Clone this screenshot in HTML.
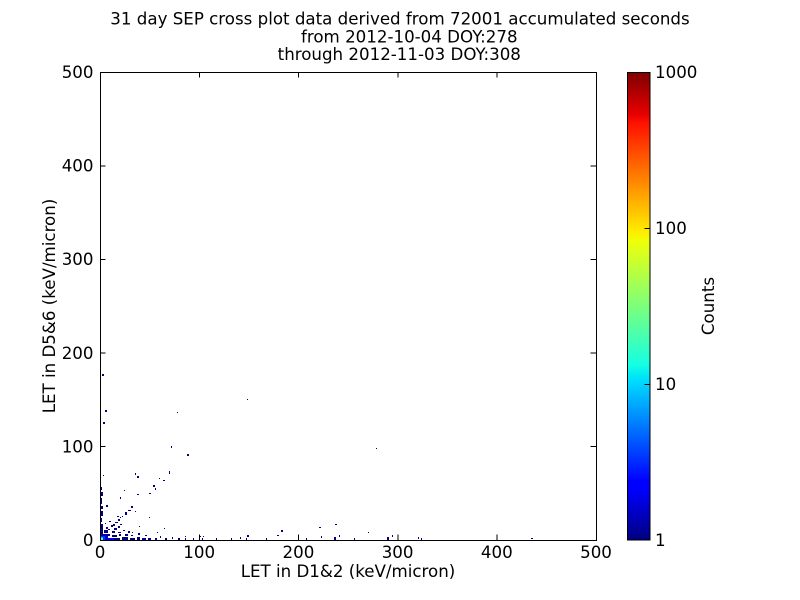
<!DOCTYPE html>
<html><head><meta charset="utf-8"><style>
html,body{margin:0;padding:0;background:#fff;}
svg{display:block;}
text{font-family:"DejaVu Sans","Liberation Sans",sans-serif;fill:#000;}
</style></head><body>
<svg width="800" height="600" viewBox="0 0 800 600" xmlns="http://www.w3.org/2000/svg">
<defs>
<linearGradient id="jet" x1="0" y1="1" x2="0" y2="0">
<stop offset="0" stop-color="#000080"/>
<stop offset="0.11" stop-color="#0000ff"/>
<stop offset="0.125" stop-color="#0000ff"/>
<stop offset="0.34" stop-color="#00dbff"/>
<stop offset="0.35" stop-color="#00e6f7"/>
<stop offset="0.375" stop-color="#15ffe2"/>
<stop offset="0.64" stop-color="#efff08"/>
<stop offset="0.65" stop-color="#f7f500"/>
<stop offset="0.66" stop-color="#ffec00"/>
<stop offset="0.89" stop-color="#ff1300"/>
<stop offset="0.91" stop-color="#e80000"/>
<stop offset="1" stop-color="#800000"/>
</linearGradient>
</defs>
<rect x="0" y="0" width="800" height="600" fill="#fff"/>

<text x="400" y="24.5" font-size="16.67" text-anchor="middle">31 day SEP cross plot data derived from 72001 accumulated seconds</text>
<text x="409.3" y="42.5" font-size="16.67" text-anchor="middle">from 2012-10-04 DOY:278</text>
<text x="399.3" y="60" font-size="16.67" text-anchor="middle">through 2012-11-03 DOY:308</text>

<g fill="#000080">
<rect x="102" y="374" width="2" height="2"/>
<rect x="105" y="410" width="2" height="2"/>
<rect x="103" y="422" width="2" height="2"/>
<rect x="177" y="412" width="1" height="1"/>
<rect x="247" y="399" width="1" height="1"/>
<rect x="171" y="446" width="1" height="2"/>
<rect x="187" y="454" width="2" height="2"/>
<rect x="376" y="448" width="1" height="1"/>
<rect x="103" y="475" width="1" height="1"/>
<rect x="135" y="473" width="1" height="2"/>
<rect x="137" y="476" width="2" height="2"/>
<rect x="169" y="471" width="1" height="3"/>
<rect x="159" y="478" width="1" height="1"/>
<rect x="163" y="480" width="2" height="1"/>
<rect x="153" y="485" width="2" height="2"/>
<rect x="155" y="488" width="1" height="2"/>
<rect x="124" y="490" width="1" height="1"/>
<rect x="137" y="494" width="2" height="1"/>
<rect x="149" y="493" width="2" height="1"/>
<rect x="120" y="497" width="1" height="2"/>
<rect x="131" y="506" width="2" height="2"/>
<rect x="106" y="505" width="2" height="2"/>
<rect x="130" y="510" width="1" height="1"/>
<rect x="135" y="511" width="1" height="1"/>
<rect x="125" y="512" width="2" height="3"/>
<rect x="128" y="510" width="2" height="1"/>
<rect x="122" y="516" width="1" height="1"/>
<rect x="120" y="517" width="1" height="1"/>
<rect x="117" y="516" width="2" height="1"/>
<rect x="118" y="519" width="2" height="2"/>
<rect x="149" y="517" width="1" height="1"/>
<rect x="115" y="522" width="2" height="1"/>
<rect x="109" y="521" width="2" height="1"/>
<rect x="105" y="523" width="1" height="1"/>
<rect x="111" y="525" width="2" height="2"/>
<rect x="113" y="524" width="2" height="2"/>
<rect x="116" y="522" width="2" height="1"/>
<rect x="118" y="526" width="2" height="2"/>
<rect x="114" y="528" width="3" height="2"/>
<rect x="120" y="524" width="2" height="1"/>
<rect x="139" y="526" width="1" height="1"/>
<rect x="123" y="530" width="2" height="1"/>
<rect x="132" y="532" width="1" height="1"/>
<rect x="164" y="528" width="1" height="1"/>
<rect x="157" y="532" width="1" height="1"/>
<rect x="185" y="536" width="1" height="1"/>
<rect x="200" y="536" width="1" height="1"/>
<rect x="203" y="536" width="1" height="1"/>
<rect x="155" y="538" width="2" height="2"/>
<rect x="160" y="536" width="1" height="2"/>
<rect x="165" y="538" width="2" height="2"/>
<rect x="172" y="537" width="1" height="2"/>
<rect x="178" y="538" width="2" height="2"/>
<rect x="185" y="538" width="1" height="2"/>
<rect x="193" y="538" width="1" height="2"/>
<rect x="202" y="538" width="1" height="2"/>
<rect x="216" y="538" width="1" height="2"/>
<rect x="231" y="538" width="1" height="2"/>
<rect x="240" y="537" width="1" height="2"/>
<rect x="247" y="535" width="2" height="2"/>
<rect x="246" y="538" width="1" height="2"/>
<rect x="266" y="538" width="1" height="2"/>
<rect x="277" y="535" width="2" height="1"/>
<rect x="281" y="530" width="2" height="2"/>
<rect x="306" y="538" width="1" height="2"/>
<rect x="319" y="527" width="2" height="1"/>
<rect x="321" y="536" width="1" height="2"/>
<rect x="335" y="524" width="2" height="1"/>
<rect x="334" y="537" width="2" height="3"/>
<rect x="339" y="535" width="1" height="2"/>
<rect x="354" y="538" width="1" height="2"/>
<rect x="368" y="532" width="1" height="1"/>
<rect x="387" y="537" width="2" height="3"/>
<rect x="392" y="535" width="1" height="2"/>
<rect x="418" y="537" width="1" height="2"/>
<rect x="421" y="538" width="1" height="2"/>
<rect x="531" y="538" width="2" height="1"/>
<rect x="100" y="487" width="2" height="3"/>
<rect x="100" y="492" width="3" height="4"/>
<rect x="100" y="498" width="2" height="6"/>
<rect x="101" y="506" width="2" height="3"/>
<rect x="100" y="511" width="3" height="5"/>
<rect x="100" y="518" width="2" height="4"/>
<rect x="100" y="524" width="3" height="16"/>
<rect x="100" y="538" width="20" height="2"/>
<rect x="122" y="537" width="6" height="3"/>
<rect x="130" y="538" width="5" height="2"/>
<rect x="137" y="537" width="3" height="3"/>
<rect x="142" y="538" width="4" height="2"/>
<rect x="148" y="538" width="3" height="2"/>
<rect x="103" y="534" width="7" height="2"/>
<rect x="112" y="535" width="5" height="2"/>
<rect x="119" y="534" width="2" height="2"/>
<rect x="125" y="534" width="3" height="2"/>
<rect x="131" y="535" width="2" height="1"/>
<rect x="138" y="533" width="2" height="2"/>
<rect x="145" y="535" width="2" height="1"/>
<rect x="104" y="530" width="4" height="3"/>
<rect x="112" y="531" width="3" height="2"/>
<rect x="118" y="532" width="3" height="1"/>
<rect x="128" y="531" width="2" height="2"/>
<rect x="106" y="527" width="2" height="2"/>
<rect x="108" y="529" width="2" height="1"/>
</g>
<rect x="100" y="535" width="8" height="5" fill="#0000cd"/>
<rect x="108" y="538" width="6" height="2" fill="#0000e6"/>
<rect x="100" y="536" width="5" height="4" fill="#0030ff"/>
<rect x="100" y="537" width="3" height="3" fill="#00b0ff"/>
<rect x="101" y="538" width="2" height="2" fill="#40ffb0"/>

<rect x="100.5" y="72.5" width="496" height="468" fill="none" stroke="#000" stroke-width="1"/>
<g stroke="#000" stroke-width="1">
<line x1="199.5" y1="540" x2="199.5" y2="534.5"/>
<line x1="298.5" y1="540" x2="298.5" y2="534.5"/>
<line x1="398" y1="540" x2="398" y2="534.5"/>
<line x1="497" y1="540" x2="497" y2="534.5"/>
<line x1="199.5" y1="72" x2="199.5" y2="77.5"/>
<line x1="298.5" y1="72" x2="298.5" y2="77.5"/>
<line x1="398" y1="72" x2="398" y2="77.5"/>
<line x1="497" y1="72" x2="497" y2="77.5"/>
<line x1="100" y1="446.5" x2="105.5" y2="446.5"/>
<line x1="100" y1="353" x2="105.5" y2="353"/>
<line x1="100" y1="259.5" x2="105.5" y2="259.5"/>
<line x1="100" y1="166" x2="105.5" y2="166"/>
<line x1="596" y1="446.5" x2="590.5" y2="446.5"/>
<line x1="596" y1="353" x2="590.5" y2="353"/>
<line x1="596" y1="259.5" x2="590.5" y2="259.5"/>
<line x1="596" y1="166" x2="590.5" y2="166"/>
</g>

<g font-size="16.67" text-anchor="middle">
<text x="100" y="558">0</text>
<text x="199.2" y="558">100</text>
<text x="298.4" y="558">200</text>
<text x="397.6" y="558">300</text>
<text x="496.8" y="558">400</text>
<text x="596" y="558">500</text>
</g>
<g font-size="16.67" text-anchor="end">
<text x="93.5" y="546">0</text>
<text x="93.5" y="452.4">100</text>
<text x="93.5" y="358.8">200</text>
<text x="93.5" y="265.2">300</text>
<text x="93.5" y="171.6">400</text>
<text x="93.5" y="78">500</text>
</g>

<text x="348" y="577" font-size="16.67" text-anchor="middle">LET in D1&amp;2 (keV/micron)</text>
<text transform="translate(55,306) rotate(-90)" font-size="16.67" text-anchor="middle">LET in D5&amp;6 (keV/micron)</text>

<rect x="627.5" y="72.5" width="22.5" height="467.5" fill="url(#jet)" stroke="#000" stroke-width="1"/>
<g stroke="#000" stroke-width="1">
<line x1="650" y1="228.5" x2="644.5" y2="228.5"/>
<line x1="650" y1="384.5" x2="644.5" y2="384.5"/>
</g>
<g font-size="16.67">
<text x="655" y="78">1000</text>
<text x="655" y="234">100</text>
<text x="655" y="390">10</text>
<text x="655" y="546">1</text>
</g>
<text transform="translate(714,306) rotate(-90)" font-size="16.67" text-anchor="middle">Counts</text>
</svg>
</body></html>
